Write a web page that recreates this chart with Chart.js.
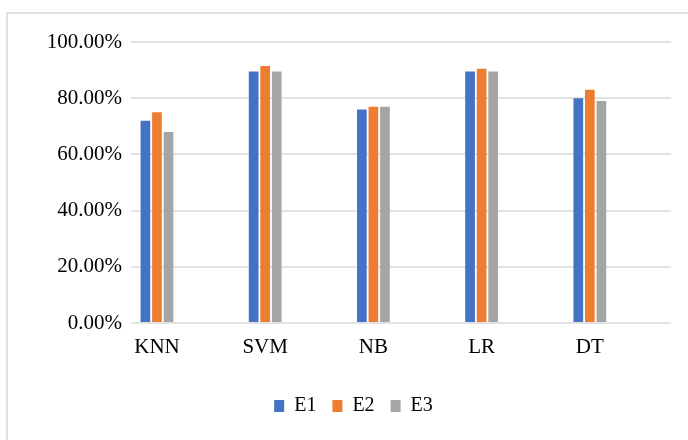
<!DOCTYPE html>
<html>
<head>
<meta charset="utf-8">
<script src="https://cdn.jsdelivr.net/npm/chart.js@4/dist/chart.umd.min.js"></script>
<style>
  html, body { margin: 0; padding: 0; background: #ffffff; overflow: hidden; }
  #wrap { position: relative; width: 688px; height: 440px; }
  #frame { position: absolute; left: 6px; top: 12px; width: 700px; height: 450px; border: 2px solid #e1e1e1; box-sizing: border-box; }
  #chart { position: absolute; left: 0; top: 0; }
</style>
</head>
<body>
<div id="wrap">
  <div id="frame"></div>
  <canvas id="chart" width="688" height="440"></canvas>
</div>
<script>
// Classifier accuracy (%) for three experiments
const categories = ['KNN', 'SVM', 'NB', 'LR', 'DT'];
const seriesNames = ['E1', 'E2', 'E3'];
const e1 = [72, 89.5, 76, 89.5, 80];
const e2 = [75, 91.5, 77, 90.5, 83];
const e3 = [68, 89.5, 77, 89.5, 79];
const yTicks = [0, 20, 40, 60, 80, 100];
const colors = ['#4472C4', '#ED7D31', '#A5A5A5'];

const serif = "'Liberation Serif', 'Times New Roman', serif";

const toPoints = arr => arr.map((v, i) => ({ x: i, y: v }));

// Nudge the legend block to the right so it sits under the bar groups
const legendShift = {
  id: 'legendShift',
  afterLayout(chart) {
    const lg = chart.legend;
    if (lg) { lg.left += 18; lg.right += 18; }
  }
};

new Chart(document.getElementById('chart'), {
  type: 'bar',
  data: {
    datasets: [e1, e2, e3].map((vals, k) => ({
      label: seriesNames[k],
      data: toPoints(vals),
      backgroundColor: colors[k],
      borderWidth: 0,
      categoryPercentage: 0.32,
      barPercentage: 0.84
    }))
  },
  options: {
    responsive: false,
    animation: false,
    layout: { padding: { left: 0, right: 17, top: 42, bottom: 14 } },
    plugins: {
      tooltip: { enabled: false },
      legend: {
        position: 'bottom',
        labels: {
          font: { family: serif, size: 20 },
          color: '#000000',
          boxWidth: 10,
          boxHeight: 12,
          padding: 16
        }
      }
    },
    scales: {
      x: {
        type: 'linear',
        offset: false,
        min: -0.24,
        max: 4.75,
        afterBuildTicks: axis => { axis.ticks = categories.map((c, i) => ({ value: i })); },
        afterFit: axis => { axis.height = 57; },
        ticks: {
          callback: v => categories[v],
          font: { family: serif, size: 21 },
          color: '#000000',
          padding: 4,
          maxRotation: 0,
          autoSkip: false
        },
        grid: { display: false },
        border: { display: false }
      },
      y: {
        min: 0,
        max: 100,
        afterBuildTicks: axis => { axis.ticks = yTicks.map(v => ({ value: v })); },
        afterFit: axis => { axis.width = 131; },
        ticks: {
          callback: v => v.toFixed(2) + '%',
          font: { family: serif, size: 21 },
          color: '#000000',
          padding: 9
        },
        grid: { color: '#e2e2e2', lineWidth: 2, drawTicks: false },
        border: { display: false }
      }
    }
  },
  plugins: [legendShift]
});
</script>
</body>
</html>
